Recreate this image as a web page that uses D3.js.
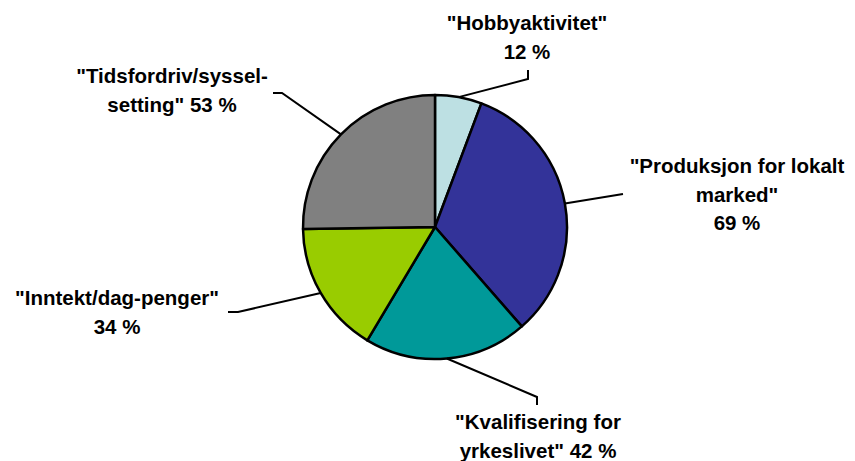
<!DOCTYPE html>
<html>
<head>
<meta charset="utf-8">
<script src="https://cdn.jsdelivr.net/npm/d3@7"></script>
<style>
  body { margin: 0; background: #fff; }
  text { font-family: "Liberation Sans", Arial, sans-serif; font-weight: bold; font-size: 20.5px; fill: #000; }
</style>
</head>
<body>
<script>
// data
var categories = ["\"Hobbyaktivitet\"", "\"Produksjon for lokalt marked\"", "\"Kvalifisering for yrkeslivet\"", "\"Inntekt/dag-penger\"", "\"Tidsfordriv/syssel-setting\""];
var values = [12, 69, 42, 34, 53];
var colors = ["#BDE0E3", "#333399", "#009999", "#99CC00", "#808080"];

// label lines as they wrap in the picture
var labelLines = [
  ["\"Hobbyaktivitet\"", "12 %"],
  ["\"Produksjon for lokalt", "marked\"", "69 %"],
  ["\"Kvalifisering for", "yrkeslivet\" 42 %"],
  ["\"Inntekt/dag-penger\"", "34 %"],
  ["\"Tidsfordriv/syssel-", "setting\" 53 %"]
];

var width = 855, height = 461;
var cx = 435, cy = 227, r = 132;

// label layout: elbow point of leader, end of leader, text centre and first baseline (relative to pie centre)
var labelLayout = [
  {elbow: [93, -148], end: [93, -157], tx: 92, ty: -197},
  {elbow: [188, -33], end: [188, -33], tx: 302, ty: -54},
  {elbow: [102, 170], end: [102, 178], tx: 103, ty: 202},
  {elbow: [-197, 85], end: [-207, 85], tx: -318, ty: 78},
  {elbow: [-153, -134], end: [-162, -134], tx: -263, ty: -144}
];

var svg = d3.select("body").append("svg").attr("width", width).attr("height", height);

var pie = d3.pie().sort(null).value(function(d){ return d; });
var arc = d3.arc().innerRadius(0).outerRadius(r);
var arcs = pie(values);

var g = svg.append("g").attr("transform", "translate(" + cx + "," + cy + ")");

g.selectAll("path.slice")
  .data(arcs)
  .enter().append("path")
    .attr("class", "slice")
    .attr("d", arc)
    .attr("fill", function(d, i){ return colors[i]; })
    .attr("stroke", "#000")
    .attr("stroke-width", 2.5)
    .attr("stroke-linejoin", "round");

// leader lines from the slice edge at mid angle
g.selectAll("polyline")
  .data(arcs)
  .enter().append("polyline")
    .attr("points", function(d, i){
      var a = (d.startAngle + d.endAngle) / 2;
      var p0 = [r * Math.sin(a), -r * Math.cos(a)];
      var L = labelLayout[i];
      return [p0, L.elbow, L.end].join(" ");
    })
    .attr("fill", "none")
    .attr("stroke", "#000")
    .attr("stroke-width", 2);

// labels
var labels = g.selectAll("text.lbl")
  .data(arcs)
  .enter().append("text")
    .attr("class", "lbl")
    .attr("text-anchor", "middle");

labels.selectAll("tspan")
  .data(function(d, i){ return labelLines[i].map(function(t){ return {t: t, i: i}; }); })
  .enter().append("tspan")
    .attr("x", function(d){ return labelLayout[d.i].tx; })
    .attr("y", function(d, j){ return labelLayout[d.i].ty + j * 28.5; })
    .text(function(d){ return d.t; });
</script>
</body>
</html>
